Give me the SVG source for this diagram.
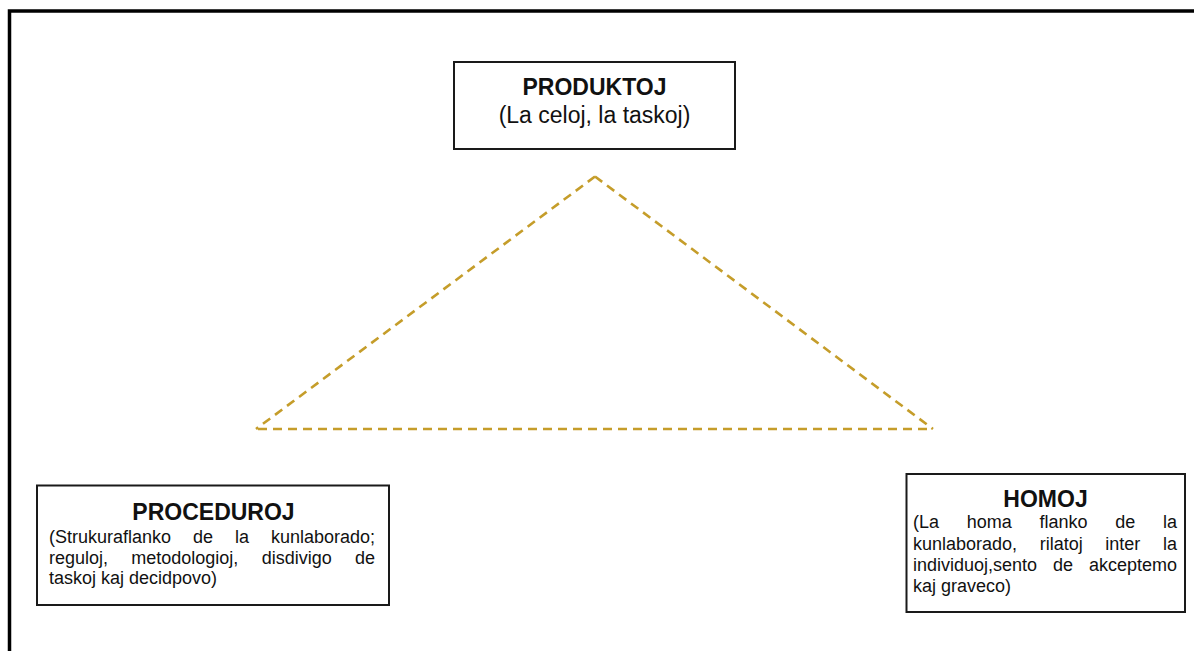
<svg xmlns="http://www.w3.org/2000/svg" width="1194" height="651" viewBox="0 0 1194 651">
<style>
.box{fill:#fff;stroke:#1a1a1a;stroke-width:2}
.t{font-family:"Liberation Sans",Arial,sans-serif;fill:#111}
.title{font-size:23px;font-weight:bold;text-anchor:middle}
.sub{font-size:23px;text-anchor:middle}
.body{font-size:18px}
.e{text-anchor:end}
.conn{fill:none;stroke:#C59D2A;stroke-width:2.6;stroke-dasharray:9 6}
</style>
<rect width="1194" height="651" fill="#fff"/>
<rect x="9.5" y="11" width="1200" height="700" fill="none" stroke="#000" stroke-width="3.5"/>
<g id="connectors">
<line class="conn" x1="595" y1="176.5" x2="256" y2="429"/>
<line class="conn" x1="595" y1="176.5" x2="933" y2="429"/>
<line class="conn" x1="258" y1="429" x2="933" y2="429"/>
</g>
<g id="produktoj">
<rect class="box" x="454" y="62" width="281" height="87"/>
<text class="t title" x="594.5" y="95">PRODUKTOJ</text>
<text class="t sub" x="594.5" y="122.5">(La celoj, la taskoj)</text>
</g>
<g id="proceduroj">
<rect class="box" x="37" y="485.5" width="352" height="119.5"/>
<text class="t title" x="213.5" y="520">PROCEDUROJ</text>
<text class="t body" y="543"><tspan x="49">(Strukuraflanko</tspan><tspan x="193">de</tspan><tspan x="235">la</tspan></text>
<text class="t body e" x="375" y="543">kunlaborado;</text>
<text class="t body" y="563.5"><tspan x="49">reguloj,</tspan><tspan x="131.3">metodologioj,</tspan><tspan x="261.7">disdivigo</tspan></text>
<text class="t body e" x="375" y="563.5">de</text>
<text class="t body" x="49" y="584">taskoj kaj decidpovo)</text>
</g>
<g id="homoj">
<rect class="box" x="906.5" y="474" width="278.5" height="138"/>
<text class="t title" x="1045.5" y="507">HOMOJ</text>
<text class="t body" y="528"><tspan x="913">(La</tspan><tspan x="966.75">homa</tspan><tspan x="1039.5">flanko</tspan><tspan x="1115.25">de</tspan></text>
<text class="t body e" x="1177" y="528">la</text>
<text class="t body" y="549.5"><tspan x="913">kunlaborado,</tspan><tspan x="1039.7">rilatoj</tspan><tspan x="1105.35">inter</tspan></text>
<text class="t body e" x="1177" y="549.5">la</text>
<text class="t body" y="571"><tspan x="913">individuoj,sento</tspan><tspan x="1053">de</tspan></text>
<text class="t body e" x="1177" y="571">akceptemo</text>
<text class="t body" x="913" y="592">kaj graveco)</text>
</g>
</svg>
